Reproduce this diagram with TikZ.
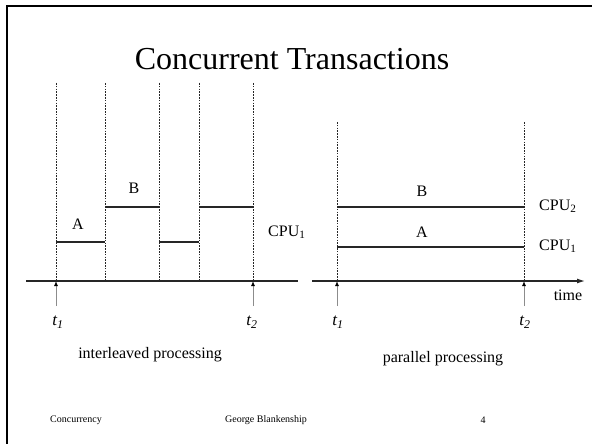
\documentclass[tikz,border=0pt]{standalone}
\usepackage{fontspec}
\setmainfont{Liberation Serif}
\usetikzlibrary{arrows.meta}
\tikzset{
  guide/.style={draw=black!85, line width=0.8pt, dash pattern=on 1.6pt off 1.2pt},
  busy/.style={draw=black!85, line width=1.2pt},
  axis/.style={draw=black!85, line width=1.2pt},
  tick/.style={draw=black!45, line width=0.9pt, -{Latex[length=5pt,width=4pt,black]}},
  lbl/.style={font=\fontsize{16}{18}\selectfont, inner sep=0pt},
  tlbl/.style={font=\fontsize{17}{19}\selectfont\itshape, inner sep=0pt},
  foot/.style={font=\fontsize{10}{12}\selectfont, inner sep=0pt}
}
\begin{document}
\begin{tikzpicture}[x=1pt,y=-1pt]
\useasboundingbox (0,0) rectangle (592,444);
% slide frame (top and left edges)
\draw[line width=2.2pt] (592,6) -- (7,6) -- (7,444);

% title
\node[font=\fontsize{32}{38}\selectfont, inner sep=0pt] (title) at (292,59) {Concurrent Transactions};

% ---------- interleaved processing ----------
\coordinate (L0) at (56,83);
\coordinate (L1) at (105,83);
\coordinate (L2) at (159,83);
\coordinate (L3) at (199,83);
\coordinate (L4) at (253,83);
\coordinate (La) at (26,281);
\coordinate (Lb) at (298,281);
\draw[axis] (La) -- (Lb);
\foreach \c in {L0,L1,L2,L3,L4}
  \draw[guide] (\c) -- (\c |- La);
% CPU time slices
\draw[busy] (56,242) -- (105,242);
\draw[busy] (105,207) -- (159,207);
\draw[busy] (159,242) -- (199,242);
\draw[busy] (199,207) -- (253,207);
\node[lbl] (lA) at (78,224) {A};
\node[lbl] (lB) at (134,188) {B};
\node[lbl, anchor=west] (lcpu) at (268,232) {CPU\textsubscript{1}};
% markers
\coordinate (Lt1) at (56,306);
\coordinate (Lt2) at (253,306);
\draw[tick] (Lt1) -- (Lt1 |- La);
\draw[tick] (Lt2) -- (Lt2 |- La);
\node[tlbl] (lt1) at (58,322) {t\textsubscript{1}};
\node[tlbl] (lt2) at (252,322) {t\textsubscript{2}};
\node[lbl] (lcap) at (150,355) {interleaved processing};

% ---------- parallel processing ----------
\coordinate (R0) at (337,122);
\coordinate (R1) at (524,122);
\coordinate (Ra) at (312,281);
\coordinate (Rb) at (585,281);
\draw[axis, -{Latex[length=8pt,width=5pt]}] (Ra) -- (Rb);
\foreach \c in {R0,R1}
  \draw[guide] (\c) -- (\c |- Ra);
\draw[busy] (337,207) -- (524,207);
\draw[busy] (337,247) -- (524,247);
\node[lbl] (rB) at (422,191) {B};
\node[lbl] (rA) at (422,232) {A};
\node[lbl, anchor=west] (rcpu2) at (539,206) {CPU\textsubscript{2}};
\node[lbl, anchor=west] (rcpu1) at (539,246) {CPU\textsubscript{1}};
\node[lbl] (time) at (568,295) {time};
\coordinate (Rt1) at (337,306);
\coordinate (Rt2) at (524,306);
\draw[tick] (Rt1) -- (Rt1 |- Ra);
\draw[tick] (Rt2) -- (Rt2 |- Ra);
\node[tlbl] (rt1) at (338,322) {t\textsubscript{1}};
\node[tlbl] (rt2) at (525,322) {t\textsubscript{2}};
\node[lbl] (rcap) at (443,359) {parallel processing};

% footer
\node[foot, anchor=west] (f1) at (50,420) {Concurrency};
\node[foot] (f2) at (266,420) {George Blankenship};
\node[foot] (f3) at (483,420) {4};
\end{tikzpicture}
\end{document}
